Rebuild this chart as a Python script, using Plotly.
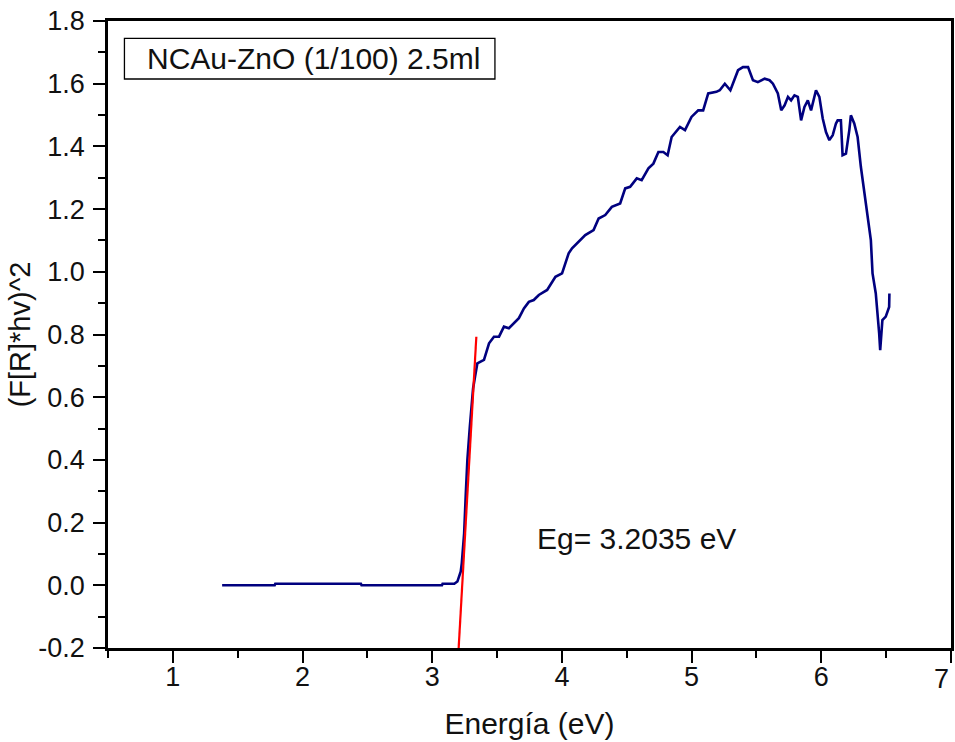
import plotly.graph_objects as go

# Measured spectrum: (F[R]*hv)^2 vs photon energy (eV)
energy = [
    1.38, 1.785, 1.79, 2.45, 2.455, 3.075, 3.08, 3.17,
    3.194, 3.220, 3.228, 3.246, 3.259, 3.271, 3.290, 3.302, 3.315, 3.330, 3.340, 3.348,
    3.399, 3.438, 3.476, 3.515, 3.553, 3.591, 3.668, 3.707, 3.745, 3.783, 3.822,
    3.886, 3.950, 4.001, 4.052, 4.078, 4.180, 4.244, 4.283, 4.334, 4.385, 4.449,
    4.488, 4.526, 4.577, 4.615, 4.667, 4.705, 4.744, 4.782, 4.815, 4.846, 4.910,
    4.949, 4.999, 5.051, 5.089, 5.128, 5.191, 5.217, 5.256, 5.299, 5.358, 5.396,
    5.435, 5.473, 5.511, 5.563, 5.601, 5.627, 5.665, 5.691, 5.717, 5.743, 5.767,
    5.793, 5.819, 5.844, 5.870, 5.896, 5.921, 5.959, 5.985, 6.011, 6.036, 6.062,
    6.088, 6.113, 6.126, 6.151, 6.164, 6.190, 6.216, 6.228, 6.254, 6.280, 6.305,
    6.331, 6.356, 6.382, 6.395, 6.420, 6.446, 6.454, 6.471, 6.497, 6.523, 6.525,
]
signal = [
    0.0, 0.0, 0.005, 0.005, 0.0, 0.0, 0.005, 0.005,
    0.012, 0.044, 0.071, 0.166, 0.294, 0.400, 0.506, 0.570, 0.628, 0.665, 0.687, 0.708,
    0.719, 0.772, 0.793, 0.793, 0.825, 0.820, 0.852, 0.883, 0.904, 0.910, 0.926,
    0.942, 0.984, 0.995, 1.059, 1.075, 1.117, 1.133, 1.170, 1.181, 1.207, 1.218,
    1.266, 1.271, 1.298, 1.292, 1.330, 1.345, 1.382, 1.382, 1.372, 1.430, 1.462,
    1.452, 1.494, 1.515, 1.515, 1.569, 1.574, 1.579, 1.600, 1.579, 1.643, 1.653,
    1.653, 1.611, 1.605, 1.616, 1.611, 1.600, 1.569, 1.515, 1.531, 1.558, 1.547,
    1.563, 1.558, 1.483, 1.526, 1.547, 1.515, 1.579, 1.558, 1.489, 1.446, 1.420,
    1.436, 1.473, 1.483, 1.483, 1.372, 1.377, 1.452, 1.499, 1.473, 1.430, 1.335,
    1.260, 1.186, 1.101, 0.995, 0.931, 0.804, 0.750, 0.846, 0.857, 0.888, 0.931,
]

# Linear fit of the absorption edge (Tauc extrapolation)
fit_energy = [3.203, 3.340]
fit_signal = [-0.205, 0.793]

x_tick_vals = [1, 2, 3, 4, 5, 6]
x_tick_text = ["1", "2", "3", "4", "5", "6"]
x_edge_tick = 7  # label at the right edge of the axis
y_tick_vals = [-0.2, 0.0, 0.2, 0.4, 0.6, 0.8, 1.0, 1.2, 1.4, 1.6, 1.8]
y_tick_text = ["-0.2", "0.0", "0.2", "0.4", "0.6", "0.8", "1.0", "1.2", "1.4", "1.6", "1.8"]

legend_label = "NCAu-ZnO (1/100) 2.5ml"
eg_label = "Eg= 3.2035 eV"
eg_pos = (3.79, 0.15)

FONT = "Arial, 'Liberation Sans', sans-serif"

fig = go.Figure()
fig.add_trace(go.Scatter(x=energy, y=signal, mode="lines",
                         line=dict(color="#00007f", width=2.6), showlegend=False,
                         hoverinfo="x+y"))
fig.add_trace(go.Scatter(x=fit_energy, y=fit_signal, mode="lines",
                         line=dict(color="#ff0000", width=2.2), showlegend=False))

axis_common = dict(
    showgrid=False, zeroline=False, showline=True, linecolor="black", linewidth=2.5,
    mirror=True, ticks="outside", ticklen=12, tickwidth=2, tickcolor="black",
    tickfont=dict(family=FONT, size=27, color="#111111"),
)

fig.update_xaxes(
    range=[0.5, 7], tickvals=x_tick_vals + [x_edge_tick], ticktext=x_tick_text + [""],
    minor=dict(ticks="outside", ticklen=7, tickwidth=2, tickcolor="black", dtick=0.5, tick0=0.5),
    title=dict(text="Energía (eV)", font=dict(family=FONT, size=30, color="#111111"), standoff=22),
    ticklabelstandoff=-9,
    **axis_common,
)
fig.update_yaxes(
    range=[-0.2, 1.8], tickvals=y_tick_vals, ticktext=y_tick_text,
    minor=dict(ticks="outside", ticklen=7, tickwidth=2, tickcolor="black", dtick=0.1, tick0=0),
    title=dict(text="(F[R]*hv)^2", font=dict(family=FONT, size=29, color="#111111"), standoff=0),
    ticklabelstandoff=3,
    **axis_common,
)

# right-edge tick label, kept fully inside the figure
fig.add_annotation(x=x_edge_tick, xref="x", yref="paper", y=0, yshift=-31,
                   xanchor="right", yanchor="middle", showarrow=False,
                   text=str(x_edge_tick), font=dict(family=FONT, size=27, color="#111111"))

# legend-like label box
fig.add_shape(type="rect", xref="paper", yref="paper",
              x0=0.0195, x1=0.459, y0=0.9075, y1=0.9724,
              line=dict(color="black", width=1.3), fillcolor="rgba(0,0,0,0)")
fig.add_annotation(xref="paper", yref="paper", x=0.0435, y=0.940,
                   xanchor="left", yanchor="middle", showarrow=False,
                   text=legend_label, font=dict(family=FONT, size=30, color="#111111"))
fig.add_annotation(x=eg_pos[0], y=eg_pos[1], xanchor="left", yanchor="middle",
                   showarrow=False, text=eg_label,
                   font=dict(family=FONT, size=30, color="#111111"))

fig.update_layout(
    width=955, height=742,
    margin=dict(l=107.5, r=1, t=21, b=94),
    paper_bgcolor="white", plot_bgcolor="white",
    font=dict(family=FONT),
)

fig.write_html("out.html", config={"displayModeBar": False},
               post_script="document.body.style.margin='0';document.body.style.overflow='hidden';")
